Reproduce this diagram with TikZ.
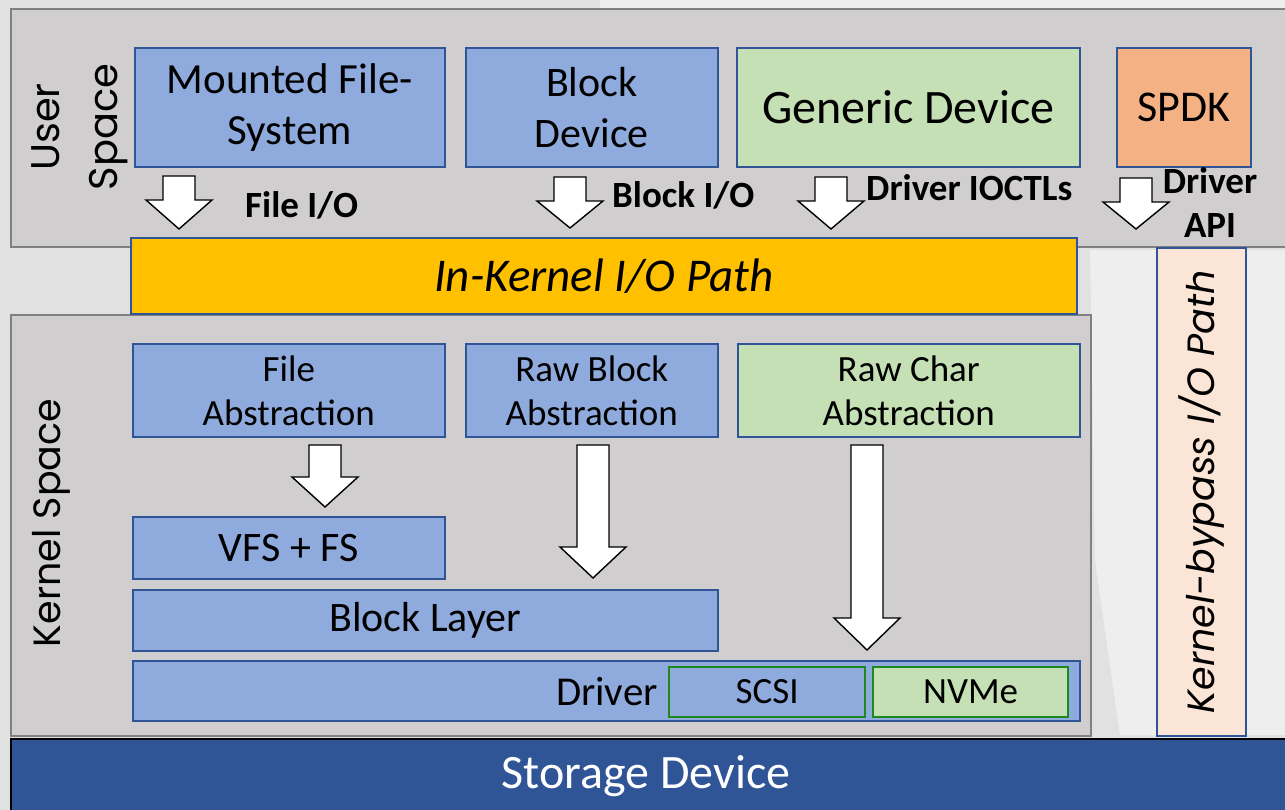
\documentclass[tikz,border=0pt]{standalone}
\usepackage{fontspec}
\setmainfont{Carlito}
\newfontfamily\geofont{Poppins}
\definecolor{bgcol}{HTML}{E1E1E1}
\definecolor{facet}{HTML}{EEEEEE}
\definecolor{regionF}{HTML}{D0CECE}
\definecolor{regionE}{HTML}{808080}
\definecolor{blueF}{HTML}{8FAADC}
\definecolor{boxedge}{HTML}{2F5597}
\definecolor{greenF}{HTML}{C5E0B4}
\definecolor{orangeF}{HTML}{F4B183}
\definecolor{goldF}{HTML}{FFC000}
\definecolor{peachF}{HTML}{FBE5D6}
\definecolor{storageF}{HTML}{2F5597}
\definecolor{protoE}{HTML}{1E8A1E}
\newcommand\fsz[2]{\fontsize{#1pt}{#2pt}\selectfont}
% white block arrow pointing down: centre x, top, start of head, tip
\newcommand\dnarrow[4]{%
  \draw[barrow] (#1-16,#2) -- (#1+16,#2) -- (#1+16,#3) -- (#1+33,#3)
    -- (#1,#4) -- (#1-33,#3) -- (#1-16,#3) -- cycle;}
\begin{document}
\begin{tikzpicture}[x=1pt,y=-1pt,
  region/.style={draw=regionE, fill=regionF, line width=1.6pt, anchor=north west, inner sep=0pt},
  box/.style={draw=boxedge, line width=1.6pt, inner sep=0pt, anchor=north west, align=center},
  bluebox/.style={box, fill=blueF},
  greenbox/.style={box, fill=greenF},
  protobox/.style={draw=protoE, line width=2.2pt, inner sep=0pt, anchor=north west, align=center},
  barrow/.style={draw=black, fill=white, line width=1.4pt, line join=miter},
  iolabel/.style={font=\fsz{37}{44}\bfseries, inner sep=0pt, align=center},
]
\fill[bgcol] (0,0) rectangle (1285,810);
\fill[facet] (1090,250) -- (1156,250) -- (1156,735) -- (1120,735) -- (1095,560) -- cycle;
\fill[facet] (1245,250) -- (1285,250) -- (1285,735) -- (1245,735) -- cycle;
\fill[facet] (600,0) -- (1285,0) -- (1285,8) -- (600,8) -- cycle;
\useasboundingbox (0,0) rectangle (1285,810);

% regions
\node (user) [region, minimum width=1290pt, minimum height=238pt] at (10,8) {};
\node (kernel) [region, minimum width=1080pt, minimum height=421pt] at (10,314) {};

\node (userlbl) [rotate=90, font=\geofont\fsz{40}{58}, align=center, inner sep=0pt] at (80,127) {User\\Space};
\node (kernlbl) [rotate=90, font=\geofont\fsz{38}{40}, inner sep=0pt] at (51,523) {Kernel Space};

% user-space interfaces
\node (mfs) [bluebox, minimum width=310pt, minimum height=119pt, font=\fsz{43}{51}] at (134,47) {Mounted File-\\System};
\node (bdev) [bluebox, minimum width=252pt, minimum height=119pt, font=\fsz{42}{51}] at (465,47) {Block\\Device};
\node (gdev) [greenbox, minimum width=343pt, minimum height=119pt, font=\fsz{48}{50}] at (736,47) {Generic Device};
\node (spdk) [box, fill=orangeF, minimum width=134pt, minimum height=119pt, font=\fsz{44}{48}] at (1116,47) {SPDK};

% I/O paths
\node (inpath) [box, fill=goldF, minimum width=946pt, minimum height=76pt, font=\fsz{47}{50}\itshape] at (130,237) {In-Kernel I/O Path};
\node (bypass) [box, fill=peachF, minimum width=89pt, minimum height=488pt] at (1156,247) {};
\node (bypasslbl) [rotate=90, font=\geofont\fsz{38}{40}\itshape, inner sep=0pt] at (bypass.center) {Kernel-bypass I/O Path};

% interface arrows and labels
\dnarrow{179}{176}{200}{229}
\dnarrow{570}{177}{201}{228}
\dnarrow{831}{177}{201}{229}
\dnarrow{1136}{178}{202}{229}
\node (lfile) [iolabel, anchor=west] at (245,205) {File I/O};
\node (lblock) [iolabel, anchor=west] at (612,195) {Block I/O};
\node (lioctl) [iolabel, anchor=west] at (866,188) {Driver IOCTLs};
\node (lapi) [iolabel, font=\fsz{37}{44}\bfseries] at (1210,203) {Driver\\API};

% kernel-space layers
\node (fabs) [bluebox, minimum width=312pt, minimum height=93pt, font=\fsz{37}{44}] at (132,343) {File\\Abstraction};
\node (rbabs) [bluebox, minimum width=252pt, minimum height=93pt, font=\fsz{37}{44}] at (465,343) {Raw Block\\Abstraction};
\node (rcabs) [greenbox, minimum width=342pt, minimum height=93pt, font=\fsz{37}{44}] at (737,343) {Raw Char\\Abstraction};
\node (vfs) [bluebox, minimum width=312pt, minimum height=62pt, font=\fsz{42}{44}] at (132,516) {VFS + FS};
\node (blayer) [bluebox, minimum width=585pt, minimum height=61pt, font=\fsz{42}{44}] at (132,589) {Block Layer};
\node (driver) [bluebox, minimum width=947pt, minimum height=60pt] at (132,660) {};
\node (drvlbl) [font=\fsz{41}{44}, anchor=east, inner sep=0pt] at (658,692) {Driver};
\node (scsi) [protobox, fill=blueF, minimum width=196pt, minimum height=50pt, font=\fsz{37}{40}] at (668,666) {SCSI};
\node (nvme) [protobox, fill=greenF, minimum width=195pt, minimum height=50pt, font=\fsz{37}{40}] at (872,666) {NVMe};

\dnarrow{325}{445}{477}{507}
\dnarrow{593}{445}{547}{578}
\dnarrow{867}{445}{618}{650}

% device
\node (storage) [draw=black, fill=storageF, line width=1.6pt, anchor=north west, inner sep=0pt,
  minimum width=1280pt, minimum height=80pt] at (10,738) {};
\node (storlbl) [text=white, font=\fsz{48}{50}, inner sep=0pt] at (646,776) {Storage Device};
\end{tikzpicture}
\end{document}
